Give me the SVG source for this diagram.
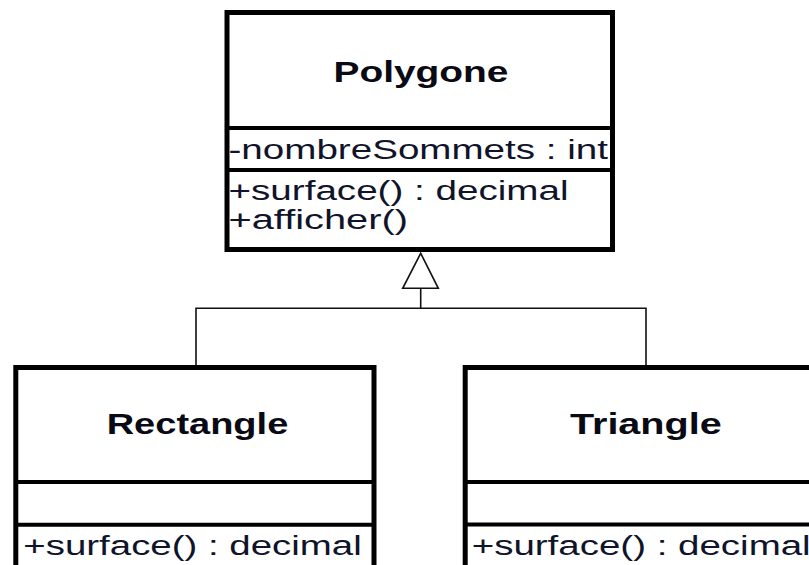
<svg xmlns="http://www.w3.org/2000/svg" width="809" height="565" viewBox="0 0 809 565">
  <style>
    .box { fill: #ffffff; stroke: #000000; stroke-width: 5; }
    .div { stroke: #000000; stroke-width: 4; }
    .title { font-family: "Liberation Sans", Arial, sans-serif; font-weight: bold; font-size: 30px; fill: #0a0a14; }
    .member { font-family: "Liberation Sans", Arial, sans-serif; font-size: 27px; fill: #10142a; }
    .edge { fill: none; stroke: #111111; stroke-width: 1.6; }
    .head { fill: #ffffff; stroke: #111111; stroke-width: 1.6; stroke-linejoin: miter; }
  </style>
  <rect width="809" height="565" fill="#ffffff"/>

  <!-- generalisation: Rectangle and Triangle inherit from Polygone -->
  <g id="connectors">
    <polyline class="edge" points="196,366 196,308.3 646,308.3 646,366"/>
    <line class="edge" x1="420.7" y1="308.3" x2="420.7" y2="288.3"/>
    <polygon class="head" points="420.7,253.3 438.3,288.3 402.7,288.3"/>
  </g>

  <g id="polygone">
    <rect class="box" x="227" y="12.5" width="385.5" height="237"/>
    <line class="div" x1="227" y1="128" x2="612.5" y2="128"/>
    <line class="div" x1="227" y1="170" x2="612.5" y2="170"/>
    <text class="title" x="333.5" y="81.5" textLength="175" lengthAdjust="spacingAndGlyphs">Polygone</text>
    <text class="member" x="228.5" y="158.5" textLength="379.5" lengthAdjust="spacingAndGlyphs">-nombreSommets : int</text>
    <text class="member" x="228.5" y="200" textLength="340" lengthAdjust="spacingAndGlyphs">+surface() : decimal</text>
    <text class="member" x="228.5" y="228.5" textLength="179.5" lengthAdjust="spacingAndGlyphs">+afficher()</text>
  </g>

  <g id="rectangle">
    <rect class="box" x="15.8" y="367.5" width="358.2" height="240"/>
    <line class="div" x1="15.8" y1="482" x2="374" y2="482"/>
    <line class="div" x1="15.8" y1="524.7" x2="374" y2="524.7"/>
    <text class="title" x="106.7" y="434" textLength="181.6" lengthAdjust="spacingAndGlyphs">Rectangle</text>
    <text class="member" x="23.3" y="555" textLength="338.4" lengthAdjust="spacingAndGlyphs">+surface() : decimal</text>
  </g>

  <g id="triangle">
    <rect class="box" x="465.2" y="367.5" width="361.6" height="240"/>
    <line class="div" x1="465.2" y1="482" x2="826.8" y2="482"/>
    <line class="div" x1="465.2" y1="524.5" x2="826.8" y2="524.5"/>
    <text class="title" x="570" y="434" textLength="151.7" lengthAdjust="spacingAndGlyphs">Triangle</text>
    <text class="member" x="471.7" y="555" textLength="339" lengthAdjust="spacingAndGlyphs">+surface() : decimal</text>
  </g>
</svg>
